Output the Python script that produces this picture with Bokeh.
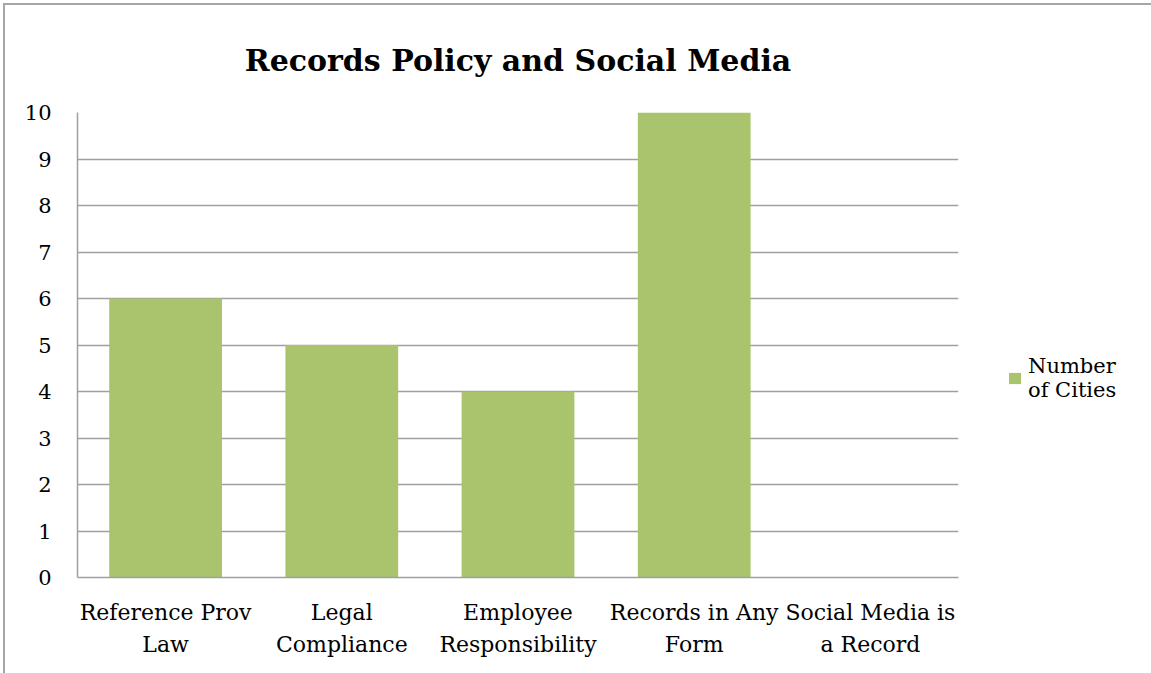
from bokeh.plotting import figure
from bokeh.models import ColumnDataSource, Legend, LegendItem, SingleIntervalTicker
from bokeh.embed import file_html
from bokeh.resources import INLINE

categories = ["Reference Prov\nLaw", "Legal\nCompliance", "Employee\nResponsibility",
              "Records in Any\nForm", "Social Media is\na Record"]
counts = [6, 5, 4, 10, 0]
series_name = "Number\nof Cities"
title_text = "Records Policy and Social Media"

GREEN = "#A9C46C"
GRID = "#A0A0A0"
SERIF = "DejaVu Serif"

src = ColumnDataSource(dict(cat=categories, val=counts))

p = figure(x_range=categories, y_range=(0, 10), frame_width=881, frame_height=465,
           output_backend="svg", toolbar_location=None,
           min_border_left=72, min_border_right=193, min_border_top=107, min_border_bottom=96)
p.margin = (3, 0, 0, 3)
p.styles = {"border-left": "2px solid #A6A6A6", "border-top": "2px solid #A6A6A6"}

p.title.text = title_text
p.title.text_font = SERIF
p.title.text_font_style = "bold"
p.title.text_font_size = "30px"
p.title.align = "center"
p.title.text_color = "#000000"
p.title.offset = 0
p.title.standoff = 70

r = p.vbar(x="cat", top="val", width=0.64, source=src, fill_color=GREEN, line_color=None)

p.outline_line_color = None
p.xgrid.grid_line_color = None
p.ygrid.grid_line_color = GRID
p.ygrid.grid_line_width = 1.5
p.yaxis.ticker = SingleIntervalTicker(interval=1)
p.ygrid.ticker = SingleIntervalTicker(interval=1)

for ax in (p.xaxis, p.yaxis):
    ax.axis_line_color = GRID
    ax.axis_line_width = 1.5
    ax.major_tick_line_color = None
    ax.minor_tick_line_color = None
    ax.major_label_text_font = SERIF
    ax.major_label_text_color = "#000000"

p.yaxis.major_label_text_font_size = "21px"
p.xaxis.major_label_text_font_size = "22px"
p.xaxis.major_label_text_line_height = 1.3
p.yaxis.major_label_standoff = 20
p.xaxis.major_label_standoff = 16
p.x_range.range_padding = 0

legend = Legend(items=[LegendItem(label=series_name, renderers=[r])],
                location=(49, 175), border_line_color=None, background_fill_alpha=0,
                label_text_font=SERIF, label_text_font_size="21px", label_text_color="#000000",
                glyph_width=15, glyph_height=14, label_standoff=6, padding=0, margin=0)
p.add_layout(legend, "right")

open("out.html", "w").write(file_html(p, INLINE))
